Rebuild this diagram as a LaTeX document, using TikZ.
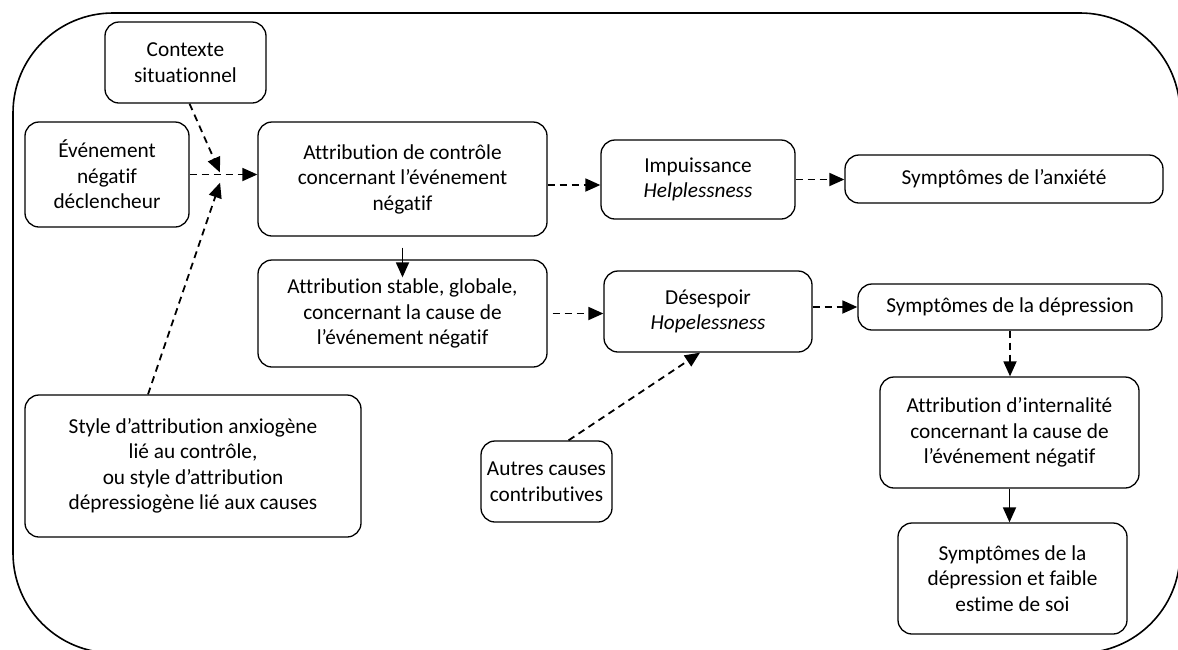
\documentclass[tikz,border=0pt]{standalone}
\usepackage{fontspec}
\setmainfont{Carlito}[Ligatures=NoCommon]
\usetikzlibrary{arrows.meta}
\begin{document}
\begin{tikzpicture}[x=1pt,y=-1pt,
		bloc/.style={draw,rounded corners=14pt,line width=1.3pt,align=center,inner sep=0pt,
			font=\fontsize{21.3}{25.5}\selectfont},
		fleche/.style={line width=1.8pt,-{Triangle[length=15pt,width=13pt]}},
		pointille/.style={fleche,dash pattern=on 7pt off 5pt}]
		\useasboundingbox (0,0) rectangle (1178,649);
		\draw[line width=1.6pt,rounded corners=100pt] (13,13) rectangle (1180,653);
		
		\node[bloc,minimum width=161pt,minimum height=81pt] (ctx) at (185.5,62.5) {Contexte\\situationnel};
		\node[bloc,minimum width=164pt,minimum height=105pt] (evt) at (107,174.5) {Événement\\négatif\\déclencheur};
		\node[bloc,minimum width=289pt,minimum height=114pt] (ctrl) at (402.5,179) {Attribution de contrôle\\concernant l’événement\\négatif};
		\node[bloc,minimum width=289pt,minimum height=107pt] (stab) at (402.5,313.5) {Attribution stable, globale,\\concernant la cause de\\l’événement négatif};
		\node[bloc,minimum width=194pt,minimum height=79pt] (impu) at (698,179.5) {Impuissance\\\textit{Helplessness}};
		\node[bloc,minimum width=318pt,minimum height=48pt] (anx) at (1004,179) {Symptômes de l’anxiété};
		\node[bloc,minimum width=208pt,minimum height=81pt] (desesp) at (708,311.5) {Désespoir\\\textit{Hopelessness}};
		\node[bloc,minimum width=304pt,minimum height=46pt] (dep) at (1010,307) {Symptômes de la dépression};
		\node[bloc,minimum width=259pt,minimum height=111pt] (intern) at (1009.5,432.5) {Attribution d’internalité\\concernant la cause de\\l’événement négatif};
		\node[bloc,minimum width=229pt,minimum height=111pt] (estime) at (1012.5,578.5) {Symptômes de la\\dépression et faible\\estime de soi};
		\node[bloc,minimum width=336pt,minimum height=142pt] (style) at (193,466) {Style d’attribution anxiogène\\lié au contrôle,\\ou style d’attribution\\dépressiogène lié aux causes};
		\node[bloc,minimum width=131pt,minimum height=81pt] (autres) at (546.5,481.5) {Autres causes\\contributives};
		
		\coordinate (j) at (222,177);
		
		\draw[pointille,shorten >=5pt] ([xshift=4pt]ctx.south) -- (j);
		\draw[pointille,shorten >=6pt] ([xshift=-45pt]style.north) -- (j);
		\draw[pointille] (evt.east) -- (evt.east -| ctrl.west);
		\draw[pointille] ([yshift=-6pt]ctrl.east) -- ([yshift=-6pt]ctrl.east -| impu.west);
		\draw[pointille] (impu.east) -- (impu.east -| anx.west);
		\draw[fleche] ([yshift=-11pt]ctrl.south) -- ([yshift=-18pt]stab.north);
		\draw[pointille,shorten <=5pt] (stab.east) -- (stab.east -| desesp.west);
		\draw[pointille] (desesp.east |- dep.west) -- (dep.west);
		\draw[pointille] ([xshift=22pt]autres.north) -- ([xshift=-8pt]desesp.south);
		\draw[pointille] (dep.south) -- (dep.south |- intern.north);
		\draw[fleche] (intern.south) -- (intern.south |- estime.north);
	\end{tikzpicture}
\end{document}
